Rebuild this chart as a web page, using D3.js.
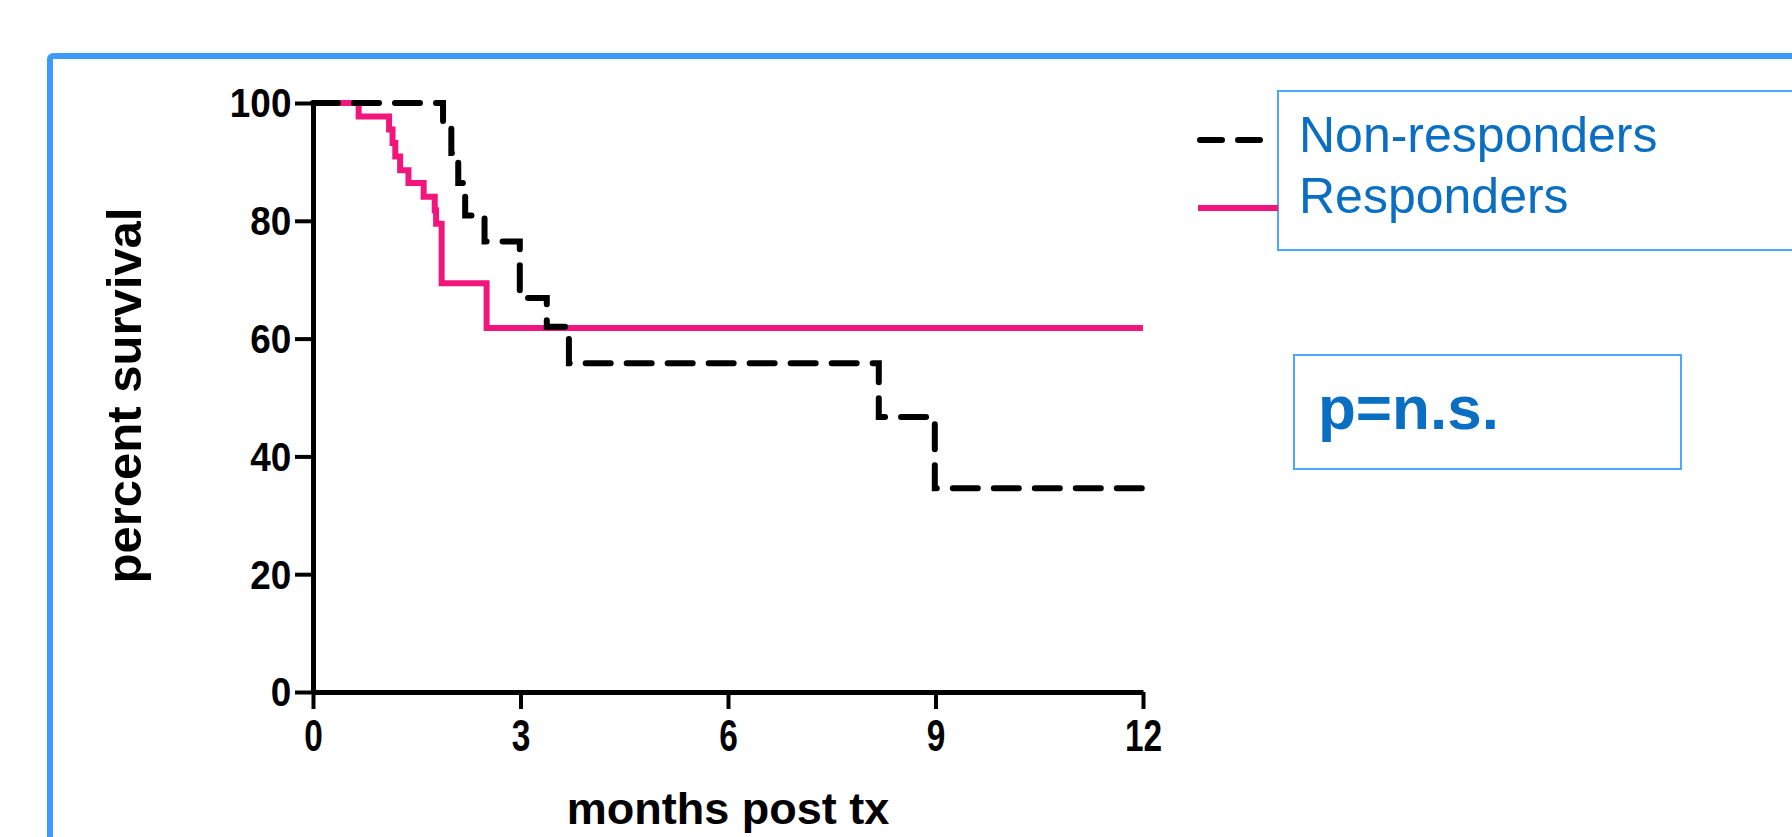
<!DOCTYPE html>
<html lang="en">
  <head>
    <meta charset="utf-8">
    <title>survival</title>
    <script src="https://d3js.org/d3.v7.js"></script>
    <style>
      body { margin: 0; background: white; }
      * { font-family: "Liberation Sans", Arial, sans-serif; }
    </style>
  </head>
  <body>
    <script type="text/javascript">
      var w = 1792;
      var h = 837;

      // Kaplan-Meier steps
      var responderMonths   = [0, 0.66, 1.10, 1.15, 1.19, 1.26, 1.38, 1.60, 1.76, 1.78, 1.86, 2.51, 12];
      var responderSurvival = [100, 97.7, 95.5, 93.2, 90.9, 88.6, 86.4, 84.1, 81.8, 79.5, 69.4, 61.8, 61.8];
      var nonRespMonths     = [0, 1.88, 2.00, 2.10, 2.20, 2.48, 2.99, 3.38, 3.70, 8.18, 8.99, 12];
      var nonRespSurvival   = [100, 96, 91.5, 86.4, 80.9, 76.5, 66.9, 62, 55.8, 46.7, 34.6, 34.6];

      var xTicks = [0, 3, 6, 9, 12];
      var yTicks = [0, 20, 40, 60, 80, 100];
      var legendLabels = ["Non-responders", "Responders"];

      var blueText = "#0a6fc2";
      var pink = "#f2157b";

      var xScale = d3.scaleLinear().domain([0, 12]).range([313, 1143]);
      var yScale = d3.scaleLinear().domain([0, 100]).range([692, 103]);

      var svg = d3.select("body").append("svg")
        .attr("width", w)
        .attr("height", h);

      // outer blue frame (runs off the right and bottom)
      svg.append("rect")
        .attr("x", 50).attr("y", 56)
        .attr("width", 1800).attr("height", 900)
        .attr("rx", 3)
        .attr("fill", "none")
        .attr("stroke", "#3d9bff")
        .attr("stroke-width", 6);

      // axes
      var xAxis = d3.axisBottom(xScale).tickValues(xTicks).tickSizeInner(17).tickSizeOuter(0).tickPadding(11);
      var yAxis = d3.axisLeft(yScale).tickValues(yTicks).tickSizeInner(18).tickSizeOuter(0).tickPadding(6);

      var gx = svg.append("g")
        .attr("transform", `translate(0, ${yScale(0)})`)
        .call(xAxis);
      var gy = svg.append("g")
        .attr("transform", `translate(${xScale(0)}, 0)`)
        .call(yAxis);

      [gx, gy].forEach(function(g) {
        g.select(".domain").attr("stroke", "black").attr("stroke-width", 5);
        g.selectAll(".tick line").attr("stroke", "black").attr("stroke-width", 4);
        g.selectAll(".tick text").attr("fill", "black").attr("font-weight", "bold");
      });
      gx.selectAll(".tick text")
        .attr("font-size", 44)
        .attr("transform", "scale(0.76,1)");
      gy.selectAll(".tick text")
        .attr("font-size", 41)
        .attr("dy", "0.34em")
        .attr("transform", "scale(0.9,1)");

      // axis titles
      svg.append("text")
        .attr("x", xScale(6))
        .attr("y", 824)
        .attr("text-anchor", "middle")
        .attr("font-size", 45)
        .attr("font-weight", "bold")
        .text("months post tx");

      svg.append("text")
        .attr("transform", `translate(141, ${yScale(50) - 2}) rotate(-90)`)
        .attr("text-anchor", "middle")
        .attr("font-size", 49)
        .attr("font-weight", "bold")
        .text("percent survival");

      // survival curves
      var line = d3.line()
        .x(d => xScale(d[0]))
        .y(d => yScale(d[1]))
        .curve(d3.curveStepAfter);

      svg.append("path")
        .datum(responderMonths.map((m, i) => [m, responderSurvival[i]]))
        .attr("d", line)
        .attr("fill", "none")
        .attr("stroke", pink)
        .attr("stroke-width", 6);

      svg.append("path")
        .datum(nonRespMonths.map((m, i) => [m, nonRespSurvival[i]]))
        .attr("d", line)
        .attr("fill", "none")
        .attr("stroke", "black")
        .attr("stroke-width", 6)
        .attr("stroke-linecap", "round")
        .attr("stroke-dasharray", "25,16");

      // legend
      svg.append("rect")
        .attr("x", 1278).attr("y", 91)
        .attr("width", 600).attr("height", 159)
        .attr("fill", "white")
        .attr("stroke", "#4da6ff")
        .attr("stroke-width", 2);

      svg.append("line")
        .attr("x1", 1200).attr("x2", 1272)
        .attr("y1", 140).attr("y2", 140)
        .attr("stroke", "black")
        .attr("stroke-width", 6)
        .attr("stroke-linecap", "round")
        .attr("stroke-dasharray", "22,16");

      svg.append("line")
        .attr("x1", 1198).attr("x2", 1278)
        .attr("y1", 208).attr("y2", 208)
        .attr("stroke", pink)
        .attr("stroke-width", 6);

      svg.selectAll(".legtext")
        .data(legendLabels).enter().append("text")
        .attr("class", "legtext")
        .attr("x", 1299)
        .attr("y", (d, i) => 152 + i * 61)
        .attr("font-size", 50)
        .attr("fill", blueText)
        .text(d => d);

      // p value box
      svg.append("rect")
        .attr("x", 1294).attr("y", 355)
        .attr("width", 387).attr("height", 114)
        .attr("fill", "none")
        .attr("stroke", "#4da6ff")
        .attr("stroke-width", 2);

      svg.append("text")
        .attr("x", 1318)
        .attr("y", 429)
        .attr("font-size", 62)
        .attr("font-weight", "bold")
        .attr("fill", blueText)
        .text("p=n.s.");
    </script>
  </body>
</html>
